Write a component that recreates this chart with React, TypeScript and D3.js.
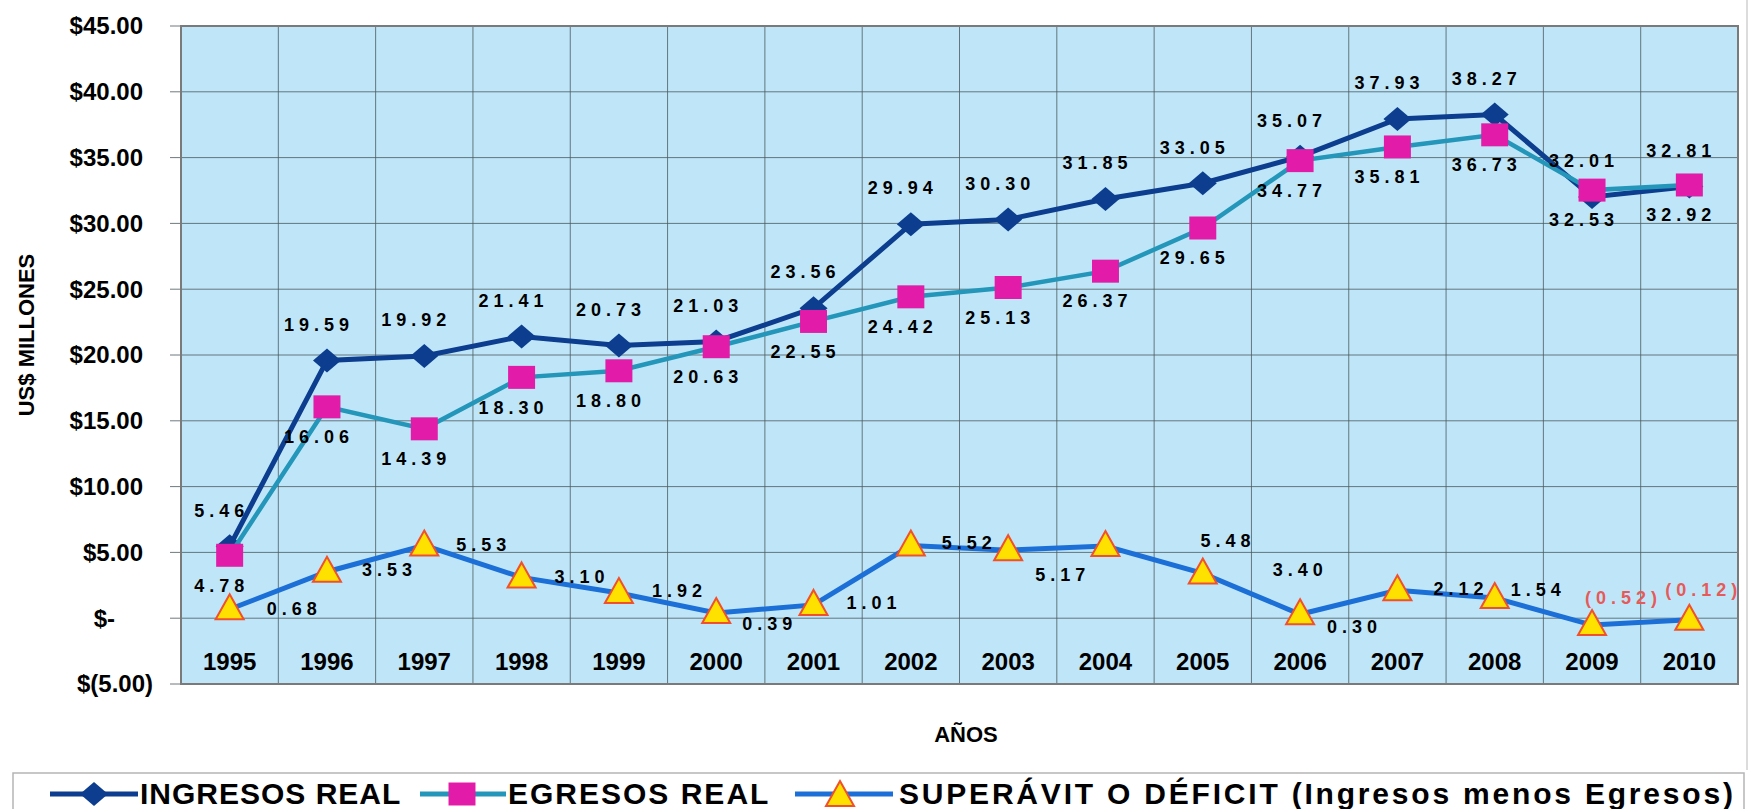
import * as d3 from "d3";

const years = ["1995", "1996", "1997", "1998", "1999", "2000", "2001", "2002", "2003", "2004", "2005", "2006", "2007", "2008", "2009", "2010"];
const ingresos = [5.46, 19.59, 19.92, 21.41, 20.73, 21.03, 23.56, 29.94, 30.3, 31.85, 33.05, 35.07, 37.93, 38.27, 32.01, 32.81];
const egresos = [4.78, 16.06, 14.39, 18.3, 18.8, 20.63, 22.55, 24.42, 25.13, 26.37, 29.65, 34.77, 35.81, 36.73, 32.53, 32.92];
const superavit = [0.68, 3.53, 5.53, 3.1, 1.92, 0.39, 1.01, 5.52, 5.17, 5.48, 3.4, 0.3, 2.12, 1.54, -0.52, -0.12];
const yTicks = [-5, 0, 5, 10, 15, 20, 25, 30, 35, 40, 45];
const legendLabels = ["INGRESOS REAL", "EGRESOS REAL", "SUPERÁVIT O DÉFICIT (Ingresos menos Egresos)"];

// hand-dragged label nudges for the surplus series (label start x, label middle y)
const supNudge = [
  [37, -1], [35, -2], [32, -1], [33, -1], [33, -2], [26, 11], [33, -2], [31, -3],
  [27, 25], [95, -5], [70, -4], [27, 12], [36, -2], [16, -8], [-7, -27], [-24, -30],
];

const W = 1751;
const H = 809;
const font = "'Liberation Sans', Arial, Helvetica, sans-serif";

const C = {
  bg: "#bfe6f8",
  grid: "#4d5b60",
  ing: "#0c3d8e",
  egr: "#2396b9",
  sup: "#1c6fd6",
  sq: "#e21ca8",
  triFill: "#ffe100",
  triStroke: "#f0502c",
  neg: "#e65a5a",
};

const money = (v: number) => {
  if (v === 0) return "$-";
  if (v < 0) return `$(${Math.abs(v).toFixed(2)})`;
  return `$${v.toFixed(2)}`;
};

const diamond = (x: number, y: number) => `M${x},${y - 12}L${x + 14},${y}L${x},${y + 12}L${x - 14},${y}Z`;
const square = (x: number, y: number) => `M${x - 13.5},${y - 11.5}h27v23h-27Z`;
const triangle = (x: number, y: number) => `M${x},${y - 15}L${x + 14},${y + 10}L${x - 14},${y + 10}Z`;

export default function App() {
  const x = d3.scaleBand<string>().domain(years).range([181, 1738]).padding(0);
  const y = d3.scaleLinear().domain([-5, 45]).range([684, 26]);
  const cx = (i: number) => (x(years[i]) as number) + x.bandwidth() / 2;

  const line = d3
    .line<number>()
    .x((_, i) => cx(i))
    .y((d) => y(d));

  const labelStyle = {
    fontFamily: font,
    fontWeight: 700,
    fontSize: 18,
    letterSpacing: 5,
  } as const;

  const bounds = [...years.map((yr) => x(yr) as number), 1738];
  const legY = 794;

  return (
    <svg
      width={W}
      height={H}
      style={{ position: "absolute", left: 0, top: 0, background: "#fff" }}
      fontFamily={font}
    >
      {/* frame line at right */}
      <line x1={1747} x2={1747} y1={0} y2={770} stroke="#d0d0d0" strokeWidth={1.5} />

      {/* plot area */}
      <rect x={181} y={26} width={1738 - 181} height={684 - 26} fill={C.bg} />
      {yTicks.map((t) => (
        <line key={"h" + t} x1={170} x2={1738} y1={y(t)} y2={y(t)} stroke={C.grid} strokeWidth={1} opacity={0.8} />
      ))}
      {bounds.map((b, i) => (
        <line key={"v" + i} x1={b} x2={b} y1={26} y2={684} stroke={C.grid} strokeWidth={1} opacity={0.8} />
      ))}
      <rect x={181} y={26} width={1738 - 181} height={684 - 26} fill="none" stroke="#7a7a7a" strokeWidth={2} />

      {/* y ticks */}
      {yTicks.map((t) => (
        <text
          key={"yt" + t}
          x={t < 0 ? 153 : t === 0 ? 115 : 143}
          y={y(t)}
          dy="0.35em"
          textAnchor="end"
          fontSize={24}
          fontWeight={700}
        >
          {money(t)}
        </text>
      ))}

      {/* year labels */}
      {years.map((yr, i) => (
        <text key={yr} x={cx(i)} y={662} dy="0.35em" textAnchor="middle" fontSize={24} fontWeight={700}>
          {yr}
        </text>
      ))}

      {/* axis titles */}
      <text
        transform={`translate(26,335) rotate(-90)`}
        textAnchor="middle"
        dy="0.35em"
        fontSize={22}
        fontWeight={700}
      >
        US$ MILLONES
      </text>
      <text x={966} y={734} dy="0.35em" textAnchor="middle" fontSize={22} fontWeight={700}>
        AÑOS
      </text>

      {/* ingresos */}
      <path d={line(ingresos) as string} fill="none" stroke={C.ing} strokeWidth={5} />
      {ingresos.map((v, i) => (
        <path key={"di" + i} d={diamond(cx(i), y(v))} fill={C.ing} />
      ))}

      {/* egresos */}
      <path d={line(egresos) as string} fill="none" stroke={C.egr} strokeWidth={4.5} />
      {egresos.map((v, i) => (
        <path key={"sq" + i} d={square(cx(i), y(v))} fill={C.sq} />
      ))}

      {/* superavit */}
      <path d={line(superavit) as string} fill="none" stroke={C.sup} strokeWidth={5} />
      {superavit.map((v, i) => (
        <path
          key={"tr" + i}
          d={triangle(cx(i), y(v))}
          fill={C.triFill}
          stroke={C.triStroke}
          strokeWidth={2}
        />
      ))}

      {/* data labels */}
      {ingresos.map((v, i) => (
        <text key={"li" + i} x={cx(i) - 8} y={y(v) - 36} dy="0.35em" textAnchor="middle" style={labelStyle}>
          {v.toFixed(2)}
        </text>
      ))}
      {egresos.map((v, i) => (
        <text key={"le" + i} x={cx(i) - 8} y={y(v) + 30} dy="0.35em" textAnchor="middle" style={labelStyle}>
          {v.toFixed(2)}
        </text>
      ))}
      {superavit.map((v, i) => (
        <text
          key={"ls" + i}
          x={cx(i) + supNudge[i][0]}
          y={y(v) + supNudge[i][1]}
          dy="0.35em"
          textAnchor="start"
          style={labelStyle}
          fill={v < 0 ? C.neg : "#000"}
        >
          {v < 0 ? `(${Math.abs(v).toFixed(2)})` : v.toFixed(2)}
        </text>
      ))}

      {/* legend */}
      <rect x={13} y={773} width={1731} height={60} fill="#fff" stroke="#b5b5b5" strokeWidth={1.5} />
      <g>
        <line x1={50} x2={138} y1={legY} y2={legY} stroke={C.ing} strokeWidth={5} />
        <path d={diamond(94, legY)} fill={C.ing} />
        <text x={140} y={legY} dy="0.33em" fontSize={30} fontWeight={700} letterSpacing={1}>
          {legendLabels[0]}
        </text>
      </g>
      <g>
        <line x1={420} x2={506} y1={legY} y2={legY} stroke={C.egr} strokeWidth={5} />
        <path d={square(462, legY)} fill={C.sq} />
        <text x={508} y={legY} dy="0.33em" fontSize={30} fontWeight={700} letterSpacing={2}>
          {legendLabels[1]}
        </text>
      </g>
      <g>
        <line x1={795} x2={893} y1={legY} y2={legY} stroke={C.sup} strokeWidth={5} />
        <path d={triangle(840, legY + 2)} fill={C.triFill} stroke={C.triStroke} strokeWidth={2} />
        <text x={899} y={legY} dy="0.33em" fontSize={30} fontWeight={700} letterSpacing={2.8}>
          {legendLabels[2]}
        </text>
      </g>
    </svg>
  );
}
